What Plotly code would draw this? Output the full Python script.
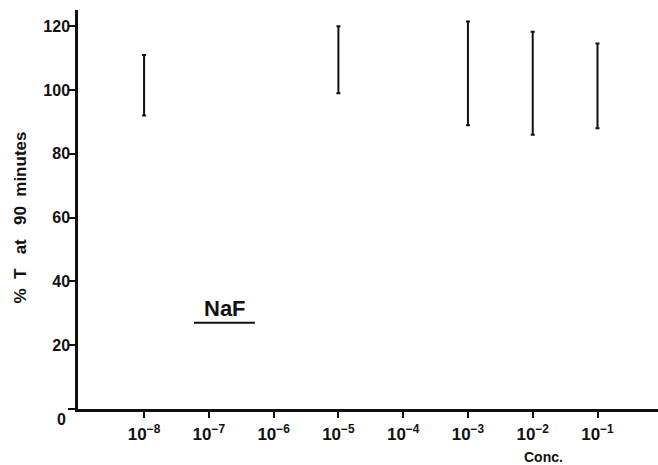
import plotly.graph_objects as go

# data
conc = [1e-8, 1e-5, 1e-3, 1e-2, 1e-1]
low = [92, 99, 89, 86, 88]
high = [111, 120, 121.5, 118.3, 114.6]

x_tickvals = [1e-8, 1e-7, 1e-6, 1e-5, 1e-4, 1e-3, 1e-2, 1e-1]
x_ticktext = ["10<sup>−8</sup>", "10<sup>−7</sup>", "10<sup>−6</sup>", "10<sup>−5</sup>",
              "10<sup>−4</sup>", "10<sup>−3</sup>", "10<sup>−2</sup>", "10<sup>−1</sup>"]
y_tickvals = [0, 20, 40, 60, 80, 100, 120]
y_ticktext = ["", "20", "40", "60", "80", "100", "120"]

mid = [(a + b) / 2 for a, b in zip(low, high)]
half = [(b - a) / 2 for a, b in zip(low, high)]

FONT = "Liberation Sans, Arial, Helvetica, sans-serif"
INK = "#111111"

fig = go.Figure()
fig.add_trace(go.Scatter(
    x=conc, y=mid, mode="markers",
    marker=dict(size=1, color="rgba(0,0,0,0)"),
    error_y=dict(type="data", array=half, visible=True, color=INK, thickness=2, width=2),
    showlegend=False, hoverinfo="skip",
))

fig.update_layout(
    width=658, height=465,
    margin=dict(l=78, r=0, t=10, b=56),
    paper_bgcolor="white", plot_bgcolor="white",
    font=dict(family=FONT, color=INK, size=16, weight="bold"),
    xaxis=dict(
        type="log", range=[-9.02, -0.066],
        tickvals=x_tickvals, ticktext=x_ticktext,
        ticks="outside", ticklen=6, tickwidth=1.5, tickcolor=INK,
        showline=True, linecolor=INK, linewidth=2.5,
        showgrid=False, zeroline=False,
        tickfont=dict(size=17, family=FONT, color=INK, weight="bold"),
        ticklabelstandoff=2,
    ),
    yaxis=dict(
        range=[0, 125.1],
        tickvals=y_tickvals, ticktext=y_ticktext,
        ticks="outside", ticklen=7, tickwidth=1.5, tickcolor=INK,
        showline=True, linecolor=INK, linewidth=2.5,
        showgrid=False, zeroline=False,
        tickfont=dict(size=16, family=FONT, color=INK, weight="bold"),
        ticklabelstandoff=-5,
    ),
)

# "0" label sits slightly below the x axis in the original
fig.add_annotation(x=0, y=0, xref="paper", yref="y", text="0", showarrow=False,
                   xanchor="right", yanchor="middle", xshift=-10, yshift=-10,
                   font=dict(size=16, family=FONT, color=INK, weight="bold"))

# axis titles
fig.add_annotation(x=-0.1, y=0.48, xref="paper", yref="paper",
                   text="%  T   at   90  minutes", textangle=-90, showarrow=False,
                   xanchor="center", yanchor="middle",
                   font=dict(size=17, family=FONT, color=INK, weight="bold"))
fig.add_annotation(x=0.802, y=-0.12, xref="paper", yref="paper",
                   text="Conc.", showarrow=False, xanchor="center", yanchor="middle",
                   font=dict(size=14, family=FONT, color=INK, weight="bold"))

# NaF label with underline
fig.add_annotation(x=0.254, y=0.253, xref="paper", yref="paper",
                   text="NaF", showarrow=False, xanchor="center", yanchor="middle",
                   font=dict(size=22, family=FONT, color=INK, weight="bold"))
fig.add_shape(type="line", xref="paper", yref="paper",
              x0=0.2, x1=0.305, y0=0.216, y1=0.216,
              line=dict(color=INK, width=2))

fig.write_html("out.html")
